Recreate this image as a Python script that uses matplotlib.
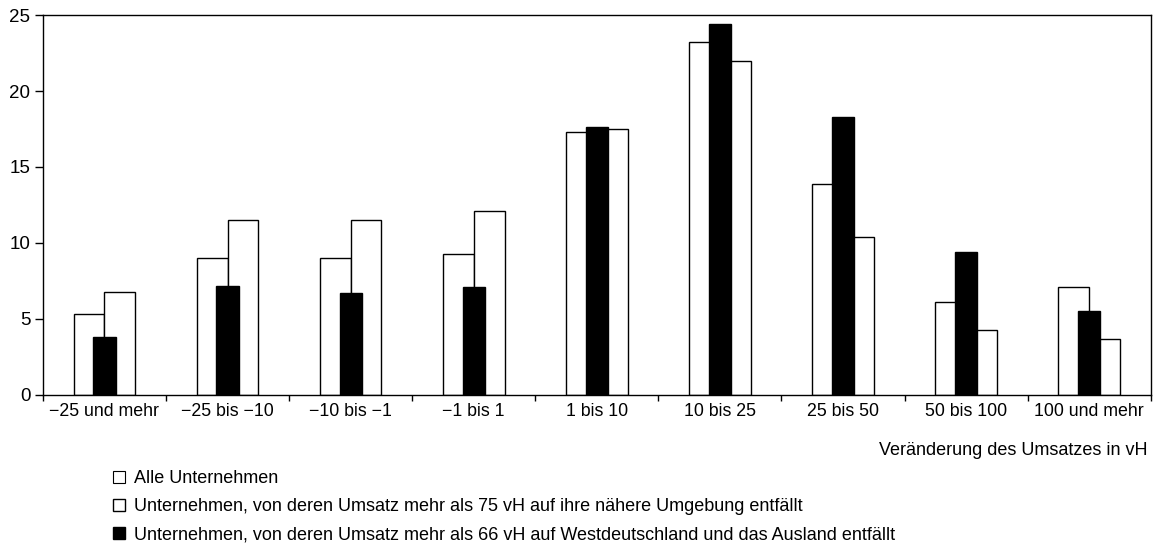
import numpy as np
import matplotlib
matplotlib.use('Agg')
import matplotlib.pyplot as plt
from matplotlib.lines import Line2D

plt.rcParams['font.family'] = ['Liberation Sans', 'DejaVu Sans']

# Data (Anteile in vH)
categories = ['\u221225 und mehr', '\u221225 bis \u221210', '\u221210 bis \u22121', '\u22121 bis 1',
              '1 bis 10', '10 bis 25', '25 bis 50', '50 bis 100', '100 und mehr']
alle = [5.3, 9.0, 9.0, 9.3, 17.3, 23.2, 13.9, 6.1, 7.1]
umgebung_75 = [6.8, 11.5, 11.5, 12.1, 17.5, 22.0, 10.4, 4.3, 3.7]
west_66 = [3.8, 7.2, 6.7, 7.1, 17.6, 24.4, 18.3, 9.4, 5.5]

labels = ['Alle Unternehmen',
          'Unternehmen, von deren Umsatz mehr als 75 vH auf ihre nähere Umgebung entfällt',
          'Unternehmen, von deren Umsatz mehr als 66 vH auf Westdeutschland und das Ausland entfällt']

fig = plt.figure(figsize=(11.6, 5.57), dpi=100)
ax = fig.add_axes([0.037, 0.291, 0.955, 0.682])

x = np.arange(len(categories))
w = 0.25
ax.bar(x - w / 2, alle, width=w, color='white', edgecolor='black', linewidth=1, zorder=2)
ax.bar(x + w / 2, umgebung_75, width=w, color='white', edgecolor='black', linewidth=1, zorder=2)
ax.bar(x, west_66, width=0.18, color='black', edgecolor='black', linewidth=1, zorder=3)

ax.set_xlim(-0.5, len(categories) - 0.5)
ax.set_ylim(0, 25)
ax.set_yticks([0, 5, 10, 15, 20, 25])
ax.tick_params(axis='y', direction='out', length=6, width=1, labelsize=13.5, pad=3)

ax.set_xticks(x)
ax.set_xticklabels(categories, fontsize=12.8)
ax.set_xticks(np.arange(len(categories) + 1) - 0.5, minor=True)
ax.tick_params(axis='x', which='major', length=0, pad=6)
ax.tick_params(axis='x', which='minor', direction='out', length=4, width=1)

for s in ax.spines.values():
    s.set_linewidth(1)

ax.text(0.997, -0.125, 'Veränderung des Umsatzes in vH', transform=ax.transAxes,
        ha='right', va='top', fontsize=13)

handles = [
    Line2D([], [], linestyle='none', marker='s', markersize=8, markerfacecolor='white',
           markeredgecolor='black', markeredgewidth=0.8),
    Line2D([], [], linestyle='none', marker='s', markersize=9, markerfacecolor='white',
           markeredgecolor='black', markeredgewidth=1),
    Line2D([], [], linestyle='none', marker='s', markersize=9, markerfacecolor='black',
           markeredgecolor='black'),
]
fig.legend(handles, labels, loc='upper left', bbox_to_anchor=(0.097, 0.156),
           frameon=False, fontsize=13, handlelength=0.7, handletextpad=0.5,
           labelspacing=0.62, borderpad=0, borderaxespad=0)

fig.savefig('out.png', dpi=100)
